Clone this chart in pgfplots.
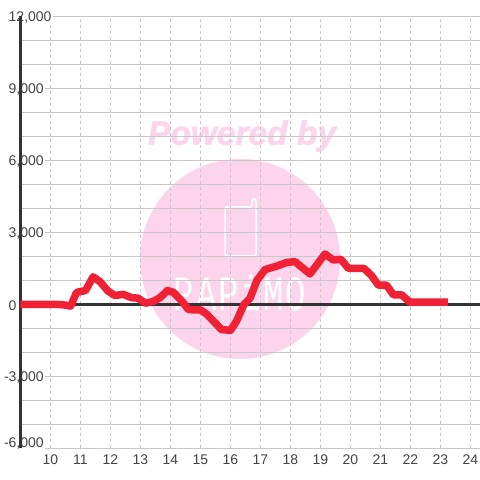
\documentclass[border=0pt]{standalone}
\usepackage{pgfplots}
\usepackage{fontspec}
\setmainfont{Liberation Sans}
\newfontfamily\logofont[LetterSpace=6]{Liberation Mono}
\newfontfamily\pwfont[BoldItalicFeatures={FakeBold=1.5}]{Liberation Sans}
\pgfplotsset{compat=1.18}
\definecolor{wm}{HTML}{FCD5EC}
\definecolor{redl}{HTML}{F02035}
\definecolor{dark}{HTML}{333333}
\definecolor{txt}{HTML}{444444}
\definecolor{gr}{HTML}{C8C8C8}
\begin{document}
\begin{tikzpicture}[x=1pt,y=1pt]
\useasboundingbox (0,0) rectangle (480,480);
\fill[white] (0,0) rectangle (480,480);
\fill[wm] (240,221) circle (100);
\node[text=wm,font=\pwfont\fontsize{33.5}{33.5}\selectfont\bfseries\itshape] at (242,344) {Powered by};
\draw[white,line width=1.5pt,rounded corners=2pt]
  (225,273) -- (225,224) -- (256,224) -- (256,281) -- (252,281) -- (252,273) -- cycle;
\node[text=white,font=\logofont\fontsize{34}{34}\selectfont,yscale=1.45] at (240,187) {PAPiMO};
\begin{axis}[
  at={(20.5pt,31.6pt)},anchor=south west,
  scale only axis,width=459.5pt,height=432pt,
  xmin=9,xmax=24.317,ymin=-6000,ymax=12000,
  clip=false,
  axis line style={draw=none},
  tick style={draw=none},
  scaled y ticks=false,
  /pgf/number format/assume math mode=true,
  xtick={10,...,24},
  ytick={-6000,-3000,0,3000,6000,9000,12000},
  yticklabels={{\raisebox{13pt}{\llap{-}6,000}},{\llap{-}3,000},{\makebox[8pt][l]{0}},{3,000},{6,000},{9,000},{12,000}},
  minor y tick num=2,
  grid=both,
  x grid style={gr,line width=0.9pt,dash pattern=on 3pt off 3pt},
  y grid style={gr,line width=1pt},
  minor y grid style={gr,line width=1pt},
  tick label style={font=\fontsize{14}{14}\selectfont,text=txt},
  yticklabel style={anchor=west,fill=white,inner xsep=1pt,inner ysep=2pt,xshift=-13pt,yshift=-1pt},
  xticklabel style={yshift=-3pt},
]
\addplot[dark,line width=3pt,forget plot] coordinates {(9,-6000) (9,12000)};
\addplot[dark,line width=3pt,forget plot] coordinates {(9,0) (24.317,0)};
\addplot[redl,line width=7.5pt,line join=round] coordinates {
(9,0)(10,0)(10.25,0)(10.5,-30)(10.67,-70)(10.87,500)(11.17,580)(11.42,1150)(11.65,950)
(11.92,550)(12.15,370)(12.42,420)(12.7,280)(12.92,260)(13.17,50)(13.42,120)(13.65,280)
(13.9,580)(14.1,500)(14.42,80)(14.6,-220)(15,-230)(15.2,-400)(15.55,-850)(15.7,-1050)
(16,-1080)(16.2,-700)(16.45,0)(16.65,250)(16.88,1000)(17.15,1450)(17.55,1600)(17.88,1750)
(18.15,1780)(18.65,1270)(19.15,2100)(19.43,1850)(19.68,1880)(19.93,1500)(20.45,1500)
(20.7,1200)(20.93,800)(21.2,800)(21.43,400)(21.7,400)(21.98,90)(23.25,90)};
\end{axis}
\end{tikzpicture}
\end{document}
